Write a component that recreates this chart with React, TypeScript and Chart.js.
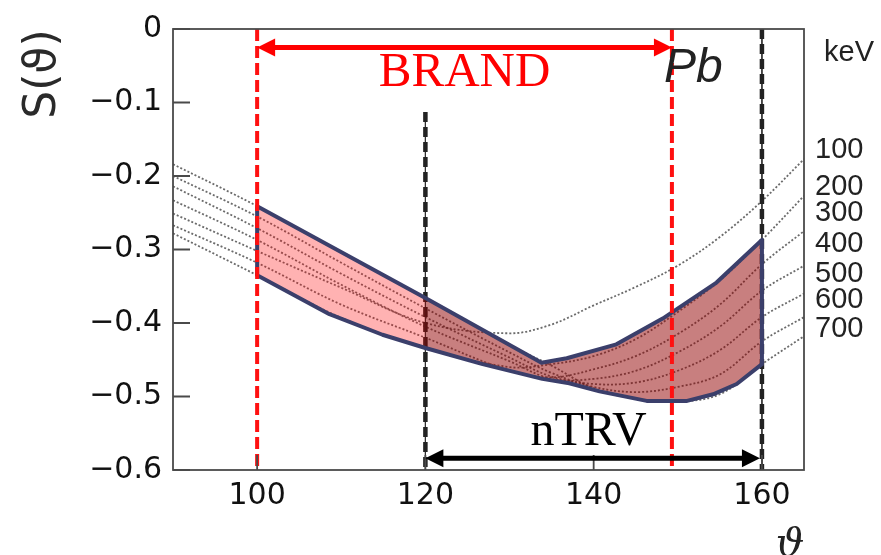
import React, { useEffect, useRef } from 'react';
import { Chart, registerables } from 'chart.js';
Chart.register(...registerables);

// scattering angle grid (deg)
const angles = [90, 100, 110, 120, 130, 135, 140, 145, 150, 155, 160, 165];
// Sherman function S(theta) for Pb, per energy (keV)
const energies = ['100', '200', '300', '400', '500', '600', '700'];
const s100 = [-0.251, -0.302, -0.352, -0.400, -0.414, -0.402, -0.376, -0.351, -0.322, -0.283, -0.234, -0.177];
const s200 = [-0.278, -0.335, -0.393, -0.434, -0.460, -0.456, -0.445, -0.422, -0.385, -0.342, -0.287, -0.227];
const s300 = [-0.267, -0.318, -0.375, -0.420, -0.465, -0.474, -0.463, -0.445, -0.415, -0.375, -0.320, -0.275];
const s400 = [-0.233, -0.287, -0.348, -0.405, -0.452, -0.476, -0.476, -0.465, -0.440, -0.405, -0.356, -0.322];
const s500 = [-0.214, -0.271, -0.333, -0.392, -0.447, -0.473, -0.483, -0.481, -0.465, -0.437, -0.392, -0.360];
const s600 = [-0.200, -0.255, -0.318, -0.380, -0.440, -0.468, -0.487, -0.494, -0.487, -0.470, -0.425, -0.392];
const s700 = [-0.184, -0.241, -0.304, -0.366, -0.430, -0.458, -0.489, -0.503, -0.507, -0.497, -0.456, -0.418];
const curves = [s100, s200, s300, s400, s500, s600, s700];

// shaded band boundaries
const upperX = [100, 120, 133.8, 136.8, 142.7, 148.2, 154.6, 160];
const upperY = [-0.241, -0.366, -0.454, -0.448, -0.429, -0.394, -0.345, -0.287];
const lowerX = [100, 108.6, 114.9, 120, 126.8, 133.9, 137.1, 140.7, 146.3, 151.1, 154.2, 157.0, 160];
const lowerY = [-0.335, -0.388, -0.416, -0.434, -0.456, -0.476, -0.482, -0.493, -0.506, -0.506, -0.497, -0.483, -0.456];
const splitAngle = 120;

// vertical markers
const brandLimits = [100, 149.3];
const ntrvLimits = [120, 160];
const ntrvLineTop = [-0.113, 0];
const brandArrowY = -0.025;
const ntrvArrowY = -0.584;

// axis ticks
const xTickValues = [100, 120, 140, 160];
const yMin = -0.6;
const yMax = 0;
const yStep = 0.1;
const energyLabelY = [-0.165, -0.215, -0.251, -0.293, -0.333, -0.369, -0.408];

const pts = (xs: number[], ys: number[]) => xs.map((x, i) => ({ x, y: ys[i] }));

function drawArrow(ctx: CanvasRenderingContext2D, x1: number, x2: number, yy: number, color: string, lw: number, hl: number, hh: number) {
  ctx.save();
  ctx.strokeStyle = color;
  ctx.fillStyle = color;
  ctx.lineWidth = lw;
  ctx.setLineDash([]);
  ctx.beginPath();
  ctx.moveTo(x1 + hl - 2, yy);
  ctx.lineTo(x2 - hl + 2, yy);
  ctx.stroke();
  ctx.beginPath();
  ctx.moveTo(x1, yy);
  ctx.lineTo(x1 + hl, yy - hh);
  ctx.lineTo(x1 + hl, yy + hh);
  ctx.closePath();
  ctx.fill();
  ctx.beginPath();
  ctx.moveTo(x2, yy);
  ctx.lineTo(x2 - hl, yy - hh);
  ctx.lineTo(x2 - hl, yy + hh);
  ctx.closePath();
  ctx.fill();
  ctx.restore();
}

const annotatePlugin = {
  id: 'annotate',
  afterDraw(chart: any) {
    const { ctx, chartArea: a, scales } = chart;
    const xs = scales.x;
    const ys = scales.y;
    ctx.save();
    // frame
    ctx.strokeStyle = '#4a4a4a';
    ctx.lineWidth = 1.8;
    ctx.setLineDash([]);
    ctx.strokeRect(a.left, a.top, a.right - a.left, a.bottom - a.top);
    // inward ticks
    ctx.beginPath();
    ys.ticks.forEach((t: any) => {
      const py = ys.getPixelForValue(t.value);
      ctx.moveTo(a.left, py);
      ctx.lineTo(a.left + 17, py);
    });
    xs.ticks.forEach((t: any) => {
      const px = xs.getPixelForValue(t.value);
      ctx.moveTo(px, a.bottom);
      ctx.lineTo(px, a.bottom - 15);
    });
    ctx.stroke();

    // arrows
    const bx1 = xs.getPixelForValue(brandLimits[0]);
    const bx2 = xs.getPixelForValue(brandLimits[1]);
    const by = ys.getPixelForValue(brandArrowY);
    drawArrow(ctx, bx1, bx2, by, '#ff0000', 5, 18, 9);
    const nx1 = xs.getPixelForValue(ntrvLimits[0]);
    const nx2 = xs.getPixelForValue(ntrvLimits[1]);
    const ny = ys.getPixelForValue(ntrvArrowY);
    drawArrow(ctx, nx1, nx2 - 2, ny, '#000000', 5, 18, 9);

    // texts
    ctx.textAlign = 'center';
    ctx.textBaseline = 'alphabetic';
    ctx.fillStyle = '#ff0000';
    ctx.font = '49px "Liberation Serif"';
    ctx.fillText('BRAND', (bx1 + bx2) / 2, 86);
    ctx.fillStyle = '#000000';
    ctx.font = '48px "Liberation Serif"';
    ctx.fillText('nTRV', xs.getPixelForValue(139.4), 445);

    ctx.textAlign = 'left';
    ctx.fillStyle = '#222';
    ctx.font = 'italic 48px "Liberation Sans"';
    ctx.fillText('Pb', 664, 82);
    ctx.font = '29px "Liberation Sans"';
    ctx.fillText('keV', 824, 61);

    ctx.font = '29px "Liberation Sans"';
    ctx.textBaseline = 'middle';
    energies.forEach((e, i) => {
      ctx.fillText(e, 815, ys.getPixelForValue(energyLabelY[i]));
    });

    // axis titles
    ctx.save();
    ctx.translate(44, 74);
    ctx.rotate(-Math.PI / 2);
    ctx.textAlign = 'center';
    ctx.textBaseline = 'middle';
    ctx.fillStyle = '#2a2a2a';
    ctx.font = '44px "DejaVu Sans"';
    ctx.fillText('S(\u03D1)', 0, 0);
    ctx.restore();

    ctx.textAlign = 'center';
    ctx.textBaseline = 'alphabetic';
    ctx.fillStyle = '#222';
    ctx.font = 'italic 40px "DejaVu Serif"';
    ctx.fillText('\u03D1', 790, 556);
    ctx.restore();
  },
};

export default function App() {
  const ref = useRef<HTMLCanvasElement | null>(null);
  useEffect(() => {
    if (!ref.current) return;
    const upper = pts(upperX, upperY);
    const lower = pts(lowerX, lowerY);
    const leftPoly = [
      ...upper.filter((p) => p.x <= splitAngle),
      ...lower.filter((p) => p.x <= splitAngle).reverse(),
    ];
    const rightPoly = [
      ...upper.filter((p) => p.x >= splitAngle),
      ...lower.filter((p) => p.x >= splitAngle).reverse(),
    ];
    const outline = [...upper, ...lower.slice().reverse(), upper[0]];

    const base = { pointRadius: 0, pointHoverRadius: 0, tension: 0 };
    const datasets: any[] = [];
    curves.forEach((c, i) => {
      datasets.push({
        ...base,
        label: energies[i] + ' keV',
        data: pts(angles, c),
        borderColor: 'rgba(70,70,70,0.8)',
        borderWidth: 1.8,
        borderDash: [2, 2],
        tension: 0.35,
        fill: false,
        order: 50,
      });
    });
    ntrvLimits.forEach((lx, i) => {
      const d = [{ x: lx, y: ntrvLineTop[i] }, { x: lx, y: yMin }];
      datasets.push({ ...base, label: 'nTRV thin', data: d, borderColor: '#333', borderWidth: 1, fill: false, order: 41 });
      datasets.push({ ...base, label: 'nTRV', data: d, borderColor: '#222', borderWidth: 4.5, borderDash: [10, 5], fill: false, order: 40 });
    });
    datasets.push({ ...base, label: 'band left', data: leftPoly, borderWidth: 0, borderColor: 'rgba(0,0,0,0)', backgroundColor: 'rgba(255,0,0,0.3)', fill: 'shape', order: 30 });
    datasets.push({ ...base, label: 'band right', data: rightPoly, borderWidth: 0, borderColor: 'rgba(0,0,0,0)', backgroundColor: 'rgba(145,0,0,0.5)', fill: 'shape', order: 30 });
    datasets.push({ ...base, label: 'band outline', data: outline, borderColor: '#3b3f6b', borderWidth: 4, borderJoinStyle: 'round', fill: false, order: 20 });
    brandLimits.forEach((lx) => {
      datasets.push({ ...base, label: 'BRAND', data: [{ x: lx, y: yMax }, { x: lx, y: yMin }], borderColor: '#ff1010', borderWidth: 4, borderDash: [12, 5], fill: false, order: 10 });
    });

    const chart = new Chart(ref.current, {
      type: 'line',
      data: { datasets },
      plugins: [annotatePlugin],
      options: {
        animation: false,
        responsive: false,
        layout: { padding: { top: 23, right: 77, left: 0, bottom: 0 } },
        plugins: { legend: { display: false }, tooltip: { enabled: false } },
        scales: {
          x: {
            type: 'linear',
            min: 90,
            max: 165,
            grid: { display: false, drawTicks: false },
            border: { display: false },
            afterBuildTicks: (s: any) => {
              s.ticks = xTickValues.map((v) => ({ value: v }));
            },
            afterFit: (s: any) => {
              s.height = 85;
            },
            ticks: {
              padding: 8,
              color: '#111',
              font: { family: 'DejaVu Sans', size: 30 },
              maxRotation: 0,
              callback: (v: any) => String(v),
            },
          },
          y: {
            type: 'linear',
            min: yMin,
            max: yMax,
            grid: { display: false, drawTicks: false },
            border: { display: false },
            afterFit: (s: any) => {
              s.width = 173;
            },
            ticks: {
              stepSize: yStep,
              padding: 11,
              color: '#111',
              font: { family: 'DejaVu Sans', size: 30 },
              callback: (v: any) => (Math.abs(v) < 1e-9 ? '0' : '\u2212' + Math.abs(v).toFixed(1)),
            },
          },
        },
      },
    });
    return () => chart.destroy();
  }, []);

  return (
    <div style={{ position: 'absolute', left: 0, top: 0, width: 881, height: 555, background: '#fff' }}>
      <canvas ref={ref} width={881} height={555} style={{ display: 'block' }} />
    </div>
  );
}
